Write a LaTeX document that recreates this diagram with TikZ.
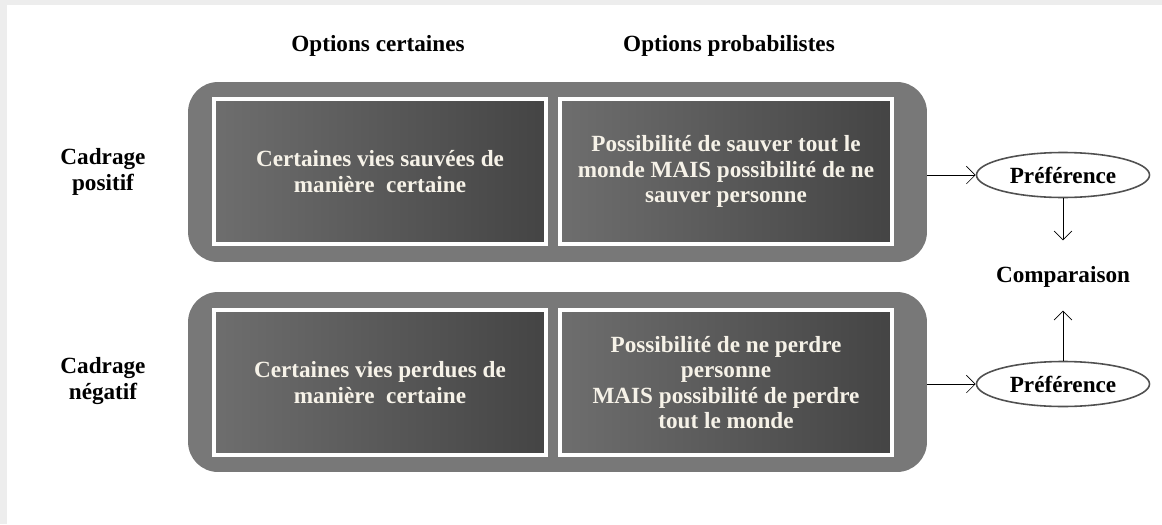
\documentclass[tikz,border=0pt]{standalone}
\usepackage{fontspec}
\setmainfont{Liberation Serif}
\usetikzlibrary{positioning,shapes.geometric,arrows.meta}

\definecolor{framegrey}{RGB}{120,120,120}
\definecolor{optlight}{RGB}{110,110,110}
\definecolor{optdark}{RGB}{68,68,68}
\definecolor{opttext}{RGB}{246,242,232}
\definecolor{ellgrey}{RGB}{80,80,80}

\begin{document}
\begin{tikzpicture}
  [x=0.02cm,y=-0.02cm,font=\bfseries\fontsize{13.2}{14.4}\selectfont,
   frame/.style={rounded corners=0.6cm,fill=framegrey,minimum width=14.78cm,minimum height=3.6cm},
   option/.style={draw=white,line width=2.2pt,left color=optlight,right color=optdark,
     text=opttext,align=center,minimum width=6.64cm,minimum height=2.9cm},
   pref/.style={ellipse,draw=ellgrey,line width=0.9pt,minimum width=3.46cm,minimum height=0.9cm,inner sep=1pt},
   >={Straight Barb[length=5pt,width=10pt]}]

  \useasboundingbox (0,0) rectangle (1162,524);
  \fill[black!7] (0,0) rectangle (1162,524);
  \fill[white] (7,5) rectangle (1162,524);

  % headers
  \node (hcert) at (378,46) {Options certaines};
  \node (hprob) at (729,46) {Options probabilistes};
  \node[align=center] (lpos) at (103,172) {Cadrage\\positif};
  \node[align=center] (lneg) at (103,381) {Cadrage\\négatif};

  % framing blocks
  \node[frame] (fpos) at (557.5,172) {};
  \node[frame] (fneg) at (557.5,382) {};

  \node[option] (cpos) at (380,171.5) {Certaines vies sauvées de\\manière\ \ certaine};
  \node[option] (ppos) at (726,171.5) {Possibilité de sauver tout le\\monde MAIS possibilité de ne\\sauver personne};
  \node[option] (cneg) at (380,382.5) {Certaines vies perdues de\\manière\ \ certaine};
  \node[option] (pneg) at (726,382.5) {Possibilité de ne perdre\\personne\\MAIS possibilité de perdre\\tout le monde};

  % preferences
  \node[pref] (prefpos) at (1063,175) {Préférence};
  \node[pref] (prefneg) at (1063,384) {Préférence};
  \node (comp) at (1063,277) {Comparaison};

  \draw[->] (prefpos.west -| fpos.east) -- (prefpos.west);
  \draw[->] (prefneg.west -| fneg.east) -- (prefneg.west);
  \draw[->,shorten >=0.4cm] (prefpos.south) -- (comp.north);
  \draw[->,shorten >=0.34cm] (prefneg.north) -- (comp.south);

\end{tikzpicture}
\end{document}
